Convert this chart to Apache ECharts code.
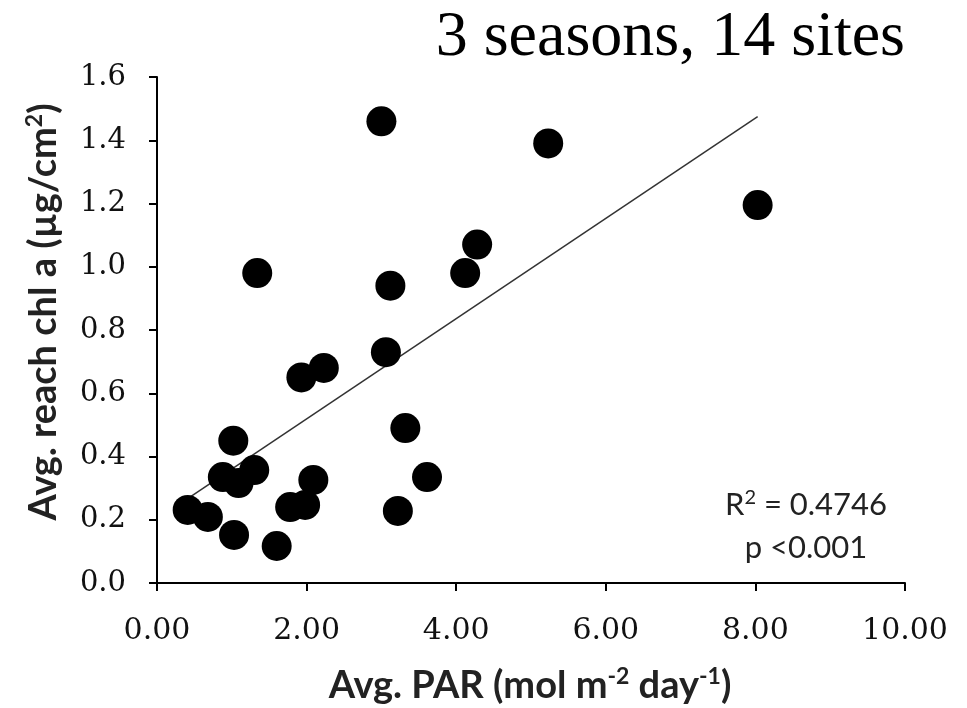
<!DOCTYPE html>
<html>
<head>
<meta charset="utf-8">
<script src="https://cdn.jsdelivr.net/npm/echarts@6/dist/echarts.min.js"></script>
<style>
html,body{margin:0;padding:0;background:#fff;}
#chart{width:967px;height:708px;}
</style>
</head>
<body>
<div id="chart"></div>
<script>
// Data
const parValues = [3.00, 5.23, 8.03, 4.28, 4.12, 1.34, 3.12, 3.06, 2.23, 1.93, 3.32, 1.02, 3.61, 0.88, 1.09, 1.30, 2.09, 1.78, 1.98, 0.41, 0.68, 1.03, 1.60, 3.22];
const chlValues = [1.46, 1.39, 1.195, 1.07, 0.98, 0.98, 0.94, 0.73, 0.68, 0.65, 0.49, 0.45, 0.335, 0.335, 0.316, 0.357, 0.326, 0.24, 0.247, 0.231, 0.209, 0.152, 0.117, 0.228];
const trendX = [0.41, 8.03];
const trendY = [0.267, 1.475];
const xTickLabels = ['0.00', '2.00', '4.00', '6.00', '8.00', '10.00'];
const yTickLabels = ['0.0', '0.2', '0.4', '0.6', '0.8', '1.0', '1.2', '1.4', '1.6'];
const titleText = '3 seasons, 14 sites';
const statLines = ['R{s|2} = 0.4746', 'p <0.001'];

const points = parValues.map((x, i) => [x, chlValues[i]]);
const trend = trendX.map((x, i) => [x, trendY[i]]);

const chart = echarts.init(document.getElementById('chart'));
const sansFont = 'Lato';
const serifTick = 'DejaVu Serif';

chart.setOption({
  animation: false,
  backgroundColor: '#ffffff',
  title: {
    text: titleText,
    right: 62,
    top: 6,
    padding: 0,
    textStyle: { fontFamily: 'Liberation Serif', fontSize: 64, fontWeight: 'normal', color: '#000' }
  },
  grid: { left: 157, right: 62, top: 77, bottom: 125, containLabel: false },
  xAxis: {
    type: 'value', min: 0, max: 10, interval: 2,
    axisLine: { show: true, onZero: false, lineStyle: { color: '#000', width: 2 } },
    axisTick: { show: true, inside: false, length: 8, lineStyle: { color: '#000', width: 2 } },
    splitLine: { show: false },
    axisLabel: {
      margin: 33, color: '#111', fontFamily: serifTick, fontSize: 30,
      formatter: (v) => xTickLabels[Math.round(v / 2)]
    }
  },
  yAxis: {
    type: 'value', min: 0, max: 1.6, interval: 0.2,
    axisLine: { show: true, lineStyle: { color: '#000', width: 2 } },
    axisTick: { show: true, inside: false, length: 8, lineStyle: { color: '#000', width: 2 } },
    splitLine: { show: false },
    axisLabel: {
      margin: 31, color: '#111', fontFamily: serifTick, fontSize: 29,
      formatter: (v) => yTickLabels[Math.round(v / 0.2)]
    }
  },
  series: [
    {
      type: 'line', data: trend, showSymbol: false, symbol: 'none', z: 1,
      lineStyle: { color: '#333', width: 1.5 }, silent: true
    },
    {
      type: 'scatter', data: points, symbol: 'circle', symbolSize: 30, z: 2,
      itemStyle: { color: '#000', opacity: 1 }
    }
  ],
  graphic: [
    {
      type: 'text', x: 530, y: 686,
      style: {
        text: '{a|Avg. PAR (mol m}{s|-2}{a| day}{s|-1}{a|)}',
        align: 'center', verticalAlign: 'middle',
        rich: {
          a: { fontFamily: sansFont, fontWeight: 'bold', fontSize: 38, fill: '#222', color: '#222' },
          s: { fontFamily: sansFont, fontWeight: 'bold', fontSize: 23, fill: '#222', color: '#222', padding: [0, 0, 18, 0] }
        }
      }
    },
    {
      type: 'text', x: 44, y: 312, rotation: Math.PI / 2,
      style: {
        text: '{a|Avg. reach chl a (µg/cm}{s|2}{a|)}',
        align: 'center', verticalAlign: 'middle',
        rich: {
          a: { fontFamily: sansFont, fontWeight: 'bold', fontSize: 38, fill: '#222', color: '#222' },
          s: { fontFamily: sansFont, fontWeight: 'bold', fontSize: 23, fill: '#222', color: '#222', padding: [0, 0, 18, 0] }
        }
      }
    },
    {
      type: 'text', x: 806, y: 505,
      style: {
        text: statLines[0], align: 'center', verticalAlign: 'middle',
        rich: {
          s: { fontFamily: sansFont, fontSize: 20, fill: '#222', color: '#222', padding: [0, 0, 15, 0] }
        },
        fontFamily: sansFont, fontSize: 31, fill: '#222'
      }
    },
    {
      type: 'text', x: 806, y: 548,
      style: {
        text: statLines[1], align: 'center', verticalAlign: 'middle',
        fontFamily: sansFont, fontSize: 31, fill: '#222'
      }
    }
  ]
});
</script>
</body>
</html>
